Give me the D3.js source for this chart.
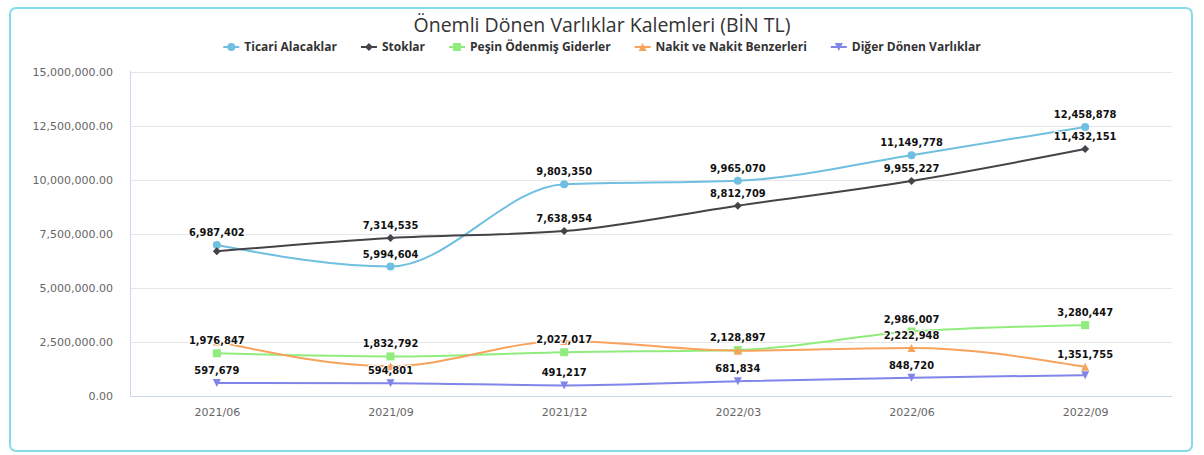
<!DOCTYPE html>
<html><head><meta charset="utf-8">
<script src="https://cdn.jsdelivr.net/npm/d3@7"></script>
<style>body{margin:0;background:#fff}</style>
</head><body><svg id="c" width="1204" height="455"></svg>
<script>
const titleText = "Önemli Dönen Varlıklar Kalemleri (BİN TL)";
const categories = ["2021/06","2021/09","2021/12","2022/03","2022/06","2022/09"];
const seriesNames = ["Ticari Alacaklar","Stoklar","Peşin Ödenmiş Giderler","Nakit ve Nakit Benzerleri","Diğer Dönen Varlıklar"];
const ticariAlacaklar = [6987402, 5994604, 9803350, 9965070, 11149778, 12458878];
const stoklar = [6700000, 7314535, 7638954, 8812709, 9955227, 11432151];
const pesinOdenmis = [1976847, 1832792, 2027017, 2128897, 2986007, 3280447];
const nakit = [2520000, 1380000, 2550000, 2100000, 2222948, 1351755];
const digerDonen = [597679, 594801, 491217, 681834, 848720, 965000];
const yTicks = [0, 2500000, 5000000, 7500000, 10000000, 12500000, 15000000];

const colors = ["#6fbfe0","#434348","#90ed7d","#f7a35c","#8085e9"];
const symbols = ["circle","diamond","square","triangle","triangle-down"];
const seriesData = [ticariAlacaklar, stoklar, pesinOdenmis, nakit, digerDonen];

const svg = d3.select("#c");
const W = 1204, H = 455;
const pLeft = 130, pRight = 1172, pTop = 72, pBottom = 396;

svg.append("rect").attr("x",10).attr("y",8).attr("width",1182).attr("height",443)
  .attr("rx",6).attr("fill","none").attr("stroke","#86dbe9").attr("stroke-width",2);

const x = d3.scalePoint().domain(categories).range([pLeft,pRight]).padding(0.5);
const y = d3.scaleLinear().domain([0,15000000]).range([pBottom,pTop]);

// grid
svg.append("g").selectAll("line").data(yTicks.filter(d=>d>0)).join("line")
  .attr("x1",pLeft).attr("x2",pRight).attr("y1",d=>y(d)+0.5).attr("y2",d=>y(d)+0.5)
  .attr("stroke","#e6e6e6").attr("stroke-width",1);

// y axis
const yAxis = d3.axisLeft(y).tickValues(yTicks).tickSize(0).tickPadding(17)
  .tickFormat(d=>d3.format(",.2f")(d));
const gy = svg.append("g").attr("transform",`translate(${pLeft},0)`).call(yAxis);
gy.select(".domain").attr("stroke","#ccd6eb").attr("d",`M0.5,${pTop-1}V${pBottom}`);
gy.selectAll("text").attr("font-family","DejaVu Sans").attr("font-size",11).attr("fill","#666");

// x axis
const xAxis = d3.axisBottom(x).tickSize(0).tickPadding(12);
const gx = svg.append("g").attr("transform",`translate(0,${pBottom})`).call(xAxis);
gx.select(".domain").attr("stroke","#ccd6eb").attr("d",`M${pLeft},0.5H${pRight}`);
gx.selectAll("text").attr("font-family","DejaVu Sans").attr("font-size",11).attr("fill","#666");

function symPath(type, cx, cy){
  const r = 4;
  switch(type){
    case "circle": return `M${cx-r},${cy}a${r},${r} 0 1,0 ${2*r},0a${r},${r} 0 1,0 ${-2*r},0Z`;
    case "diamond": return `M${cx},${cy-r}L${cx+r},${cy}L${cx},${cy+r}L${cx-r},${cy}Z`;
    case "square": return `M${cx-r},${cy-r}H${cx+r}V${cy+r}H${cx-r}Z`;
    case "triangle": return `M${cx},${cy-r}L${cx+r},${cy+r}H${cx-r}Z`;
    case "triangle-down": return `M${cx-r},${cy-r}H${cx+r}L${cx},${cy+r}Z`;
  }
}

const line = d3.line().x((d,i)=>x(categories[i])).y(d=>y(d)).curve(d3.curveMonotoneX);
const gSeries = svg.append("g");
seriesData.forEach((vals,si)=>{
  const g = gSeries.append("g");
  g.append("path").attr("d",line(vals)).attr("fill","none").attr("stroke",colors[si]).attr("stroke-width",2);
  g.selectAll("path.m").data(vals).join("path").attr("class","m")
    .attr("d",(d,i)=>symPath(symbols[si], x(categories[i]), y(d))).attr("fill",colors[si]);
});

// data labels with overlap hiding
const gLabels = svg.append("g");
const shown = [];
seriesData.forEach((vals,si)=>{
  vals.forEach((v,i)=>{
    const bx = x(categories[i]), by = y(v)-9;
    const t = gLabels.append("text").attr("x",bx).attr("y",by)
      .attr("text-anchor","middle").attr("font-family","'DejaVu Sans Condensed', 'DejaVu Sans'")
      .attr("font-weight","bold").attr("font-size",11)
      .attr("fill","#111").attr("stroke","#fff").attr("stroke-width",2).attr("paint-order","stroke")
      .attr("stroke-linejoin","round")
      .text(d3.format(",")(v));
    const wdt = t.node().getComputedTextLength();
    const box = {x1:bx-wdt/2,x2:bx+wdt/2,y1:by-11,y2:by+3};
    const hit = shown.some(o=>box.x1<o.x2 && box.x2>o.x1 && box.y1<o.y2 && box.y2>o.y1);
    if(hit) t.remove(); else shown.push(box);
  });
});

// title
svg.append("text").attr("x",W/2).attr("y",32).attr("text-anchor","middle")
  .attr("font-family","Open Sans").attr("font-size",19.5).attr("fill","#333").text(titleText);

// legend
const gLeg = svg.append("g");
let cx = 0;
const gap = 24;
seriesNames.forEach((n,si)=>{
  const it = gLeg.append("g").attr("transform",`translate(${cx},0)`);
  it.append("path").attr("d","M0,0H16").attr("stroke",colors[si]).attr("stroke-width",2);
  it.append("path").attr("d",symPath(symbols[si],8,0)).attr("fill",colors[si]);
  const t = it.append("text").attr("x",21).attr("y",4).attr("font-family","Open Sans")
    .attr("font-size",12).attr("font-weight","bold").attr("fill","#333").text(n);
  const w = 21 + t.node().getComputedTextLength();
  cx += w + gap;
});
const totalW = cx - gap;
gLeg.attr("transform",`translate(${W/2 - totalW/2},47)`);
</script></body></html>
